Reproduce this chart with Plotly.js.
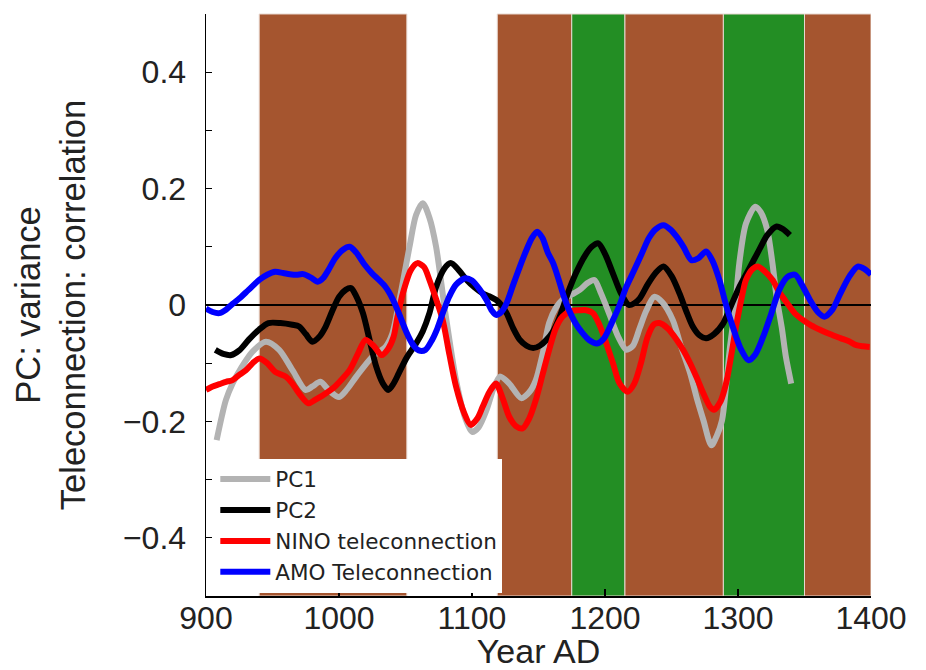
<!DOCTYPE html>
<html>
<head>
<meta charset="utf-8">
<script src="https://cdn.plot.ly/plotly-3.0.1.min.js"></script>
<style>html,body{margin:0;padding:0;background:#fff;}#chart{width:926px;height:670px;}</style>
</head>
<body>
<div id="chart"></div>
<script>
// Shaded periods (years)
var bandStart = [940, 1119, 1175, 1215, 1289, 1350];
var bandEnd   = [1051, 1175, 1215, 1289, 1350, 1400];
var bandKind  = ['dry', 'dry', 'wet', 'dry', 'wet', 'dry'];

// PC1
var pc1Year = [908,912,915,920,927,935,945,955,965,975,980,986,993,1000,1006,1013,1025,1035,1040,1045,1053,1058,1063,1068,1073,1080,1088,1095,1100,1105,1111,1116,1121,1128,1137,1143,1148,1153,1158,1163,1168,1175,1181,1187,1192,1197,1203,1210,1216,1221,1226,1231,1237,1243,1251,1257,1264,1269,1274,1280,1284,1288,1291,1294,1298,1301,1306,1313,1317,1322,1326,1329,1333,1336,1340];
var pc1Val  = [-0.232,-0.19,-0.163,-0.135,-0.106,-0.08,-0.063,-0.077,-0.112,-0.146,-0.14,-0.132,-0.148,-0.158,-0.145,-0.123,-0.089,-0.072,-0.05,0.003,0.10,0.155,0.175,0.15,0.10,-0.014,-0.129,-0.195,-0.218,-0.21,-0.18,-0.145,-0.123,-0.135,-0.16,-0.15,-0.129,-0.085,-0.031,-0.005,0.009,0.018,0.026,0.038,0.043,0.02,-0.014,-0.055,-0.077,-0.07,-0.04,-0.01,0.014,0.005,-0.026,-0.07,-0.117,-0.16,-0.198,-0.241,-0.225,-0.198,-0.14,-0.072,0.0,0.072,0.14,0.169,0.16,0.129,0.07,0.014,-0.04,-0.089,-0.135];

// PC2
var pc2Year = [907,913,919,925,932,940,947,956,965,970,975,980,985,990,995,1000,1005,1009,1013,1018,1023,1028,1033,1037,1041,1045,1051,1058,1063,1068,1073,1079,1084,1090,1096,1102,1108,1113,1118,1122,1126,1131,1136,1141,1146,1151,1156,1161,1166,1172,1178,1185,1190,1195,1200,1206,1212,1218,1222,1226,1232,1238,1244,1250,1256,1261,1266,1271,1276,1282,1289,1295,1301,1309,1316,1322,1329,1334,1339];
var pc2Val  = [-0.077,-0.084,-0.086,-0.078,-0.060,-0.042,-0.031,-0.031,-0.034,-0.037,-0.05,-0.063,-0.055,-0.037,-0.01,0.014,0.026,0.029,0.015,-0.014,-0.06,-0.106,-0.135,-0.146,-0.135,-0.117,-0.09,-0.066,-0.045,-0.014,0.031,0.062,0.072,0.06,0.043,0.03,0.020,0.015,0.009,0.0,-0.014,-0.04,-0.060,-0.07,-0.074,-0.07,-0.060,-0.045,-0.020,0.02,0.054,0.085,0.1,0.106,0.088,0.054,0.02,0.0,0.003,0.011,0.035,0.055,0.066,0.05,0.020,-0.01,-0.037,-0.052,-0.057,-0.05,-0.031,0.0,0.031,0.065,0.095,0.12,0.135,0.13,0.120];

// NINO teleconnection
var ninoYear = [900,905,910,915,920,925,930,935,940,946,952,960,965,970,977,982,988,997,1002,1008,1014,1020,1026,1032,1037,1041,1044,1048,1054,1059,1064,1068,1073,1078,1083,1088,1094,1099,1104,1108,1113,1118,1123,1128,1133,1138,1143,1148,1153,1158,1163,1168,1175,1181,1186,1191,1196,1201,1206,1211,1217,1222,1227,1232,1237,1241,1247,1254,1259,1264,1269,1274,1279,1282,1287,1291,1295,1299,1303,1306,1311,1315,1320,1326,1331,1337,1343,1349,1355,1362,1369,1377,1383,1389,1394,1399];
var ninoVal  = [-0.146,-0.140,-0.136,-0.132,-0.129,-0.12,-0.112,-0.10,-0.092,-0.10,-0.115,-0.123,-0.135,-0.152,-0.169,-0.163,-0.155,-0.140,-0.128,-0.112,-0.085,-0.060,-0.07,-0.086,-0.075,-0.055,-0.02,0.020,0.06,0.072,0.065,0.043,0.01,-0.026,-0.085,-0.140,-0.185,-0.206,-0.195,-0.175,-0.15,-0.135,-0.16,-0.192,-0.208,-0.212,-0.195,-0.163,-0.12,-0.077,-0.04,-0.020,-0.01,-0.009,-0.009,-0.014,-0.035,-0.066,-0.10,-0.135,-0.149,-0.135,-0.10,-0.055,-0.033,-0.031,-0.04,-0.060,-0.078,-0.100,-0.125,-0.152,-0.175,-0.18,-0.165,-0.135,-0.085,-0.031,0.015,0.043,0.062,0.066,0.058,0.043,0.022,0.003,-0.015,-0.026,-0.035,-0.043,-0.050,-0.057,-0.062,-0.069,-0.071,-0.072];

// AMO teleconnection
var amoYear = [900,905,910,915,920,925,932,940,946,952,958,963,968,973,979,984,988,992,997,1003,1008,1013,1019,1025,1030,1035,1040,1045,1050,1055,1060,1065,1070,1074,1078,1083,1088,1095,1100,1106,1111,1115,1118,1122,1126,1131,1136,1141,1145,1149,1153,1157,1161,1165,1169,1173,1178,1183,1188,1194,1199,1206,1211,1216,1222,1228,1233,1238,1244,1249,1254,1259,1265,1270,1276,1281,1286,1291,1296,1302,1308,1313,1319,1325,1331,1337,1343,1348,1354,1360,1365,1371,1377,1384,1390,1395,1400];
var amoVal  = [-0.006,-0.012,-0.014,-0.008,0.002,0.011,0.026,0.043,0.052,0.057,0.055,0.053,0.052,0.053,0.047,0.040,0.046,0.06,0.08,0.095,0.100,0.09,0.07,0.054,0.043,0.031,0.012,-0.014,-0.043,-0.066,-0.078,-0.077,-0.06,-0.04,-0.014,0.015,0.035,0.046,0.042,0.026,0.008,-0.01,-0.017,-0.012,0.003,0.035,0.066,0.095,0.115,0.126,0.115,0.09,0.072,0.045,0.015,-0.009,-0.032,-0.048,-0.06,-0.066,-0.058,-0.026,0.0,0.031,0.06,0.09,0.115,0.13,0.137,0.13,0.117,0.1,0.077,0.08,0.092,0.075,0.043,0.0,-0.037,-0.075,-0.095,-0.085,-0.054,-0.015,0.026,0.048,0.052,0.035,0.009,-0.012,-0.020,-0.008,0.020,0.05,0.066,0.062,0.052];

var seriesNames = ['PC1', 'PC2', 'NINO teleconnection', 'AMO Teleconnection'];

var FONT = '"Liberation Sans", Arial, Helvetica, sans-serif';
var LEGEND_FONT = '"DejaVu Sans", "Liberation Sans", Arial, sans-serif';
var bandColor = {dry: '#a5552f', wet: '#238e24'};

function line(x, y, name, color) {
  return {
    x: x, y: y, name: name, type: 'scatter', mode: 'lines',
    line: {color: color, width: 6, shape: 'spline', smoothing: 0.8},
    hoverinfo: 'skip'
  };
}

var traces = [
  line(pc1Year, pc1Val, seriesNames[0], '#b3b3b3'),
  line(pc2Year, pc2Val, seriesNames[1], '#000000'),
  line(ninoYear, ninoVal, seriesNames[2], '#ff0000'),
  line(amoYear, amoVal, seriesNames[3], '#0000ff')
];

var shapes = bandStart.map(function (s, i) {
  return {
    type: 'rect', layer: 'below', xref: 'x', yref: 'paper',
    x0: s, x1: bandEnd[i], y0: 0, y1: 1,
    fillcolor: bandColor[bandKind[i]],
    line: {color: '#e8d8d0', width: 1}
  };
});

var layout = {
  width: 926, height: 670,
  margin: {l: 206, r: 55, t: 14, b: 74, pad: 0},
  paper_bgcolor: '#ffffff', plot_bgcolor: '#ffffff',
  font: {family: FONT, color: '#222222'},
  showlegend: true,
  legend: {
    x: 0.014, y: 0.006, xanchor: 'left', yanchor: 'bottom',
    bgcolor: '#ffffff', borderwidth: 0,
    font: {family: LEGEND_FONT, size: 21.5, color: '#222222'},
    itemwidth: 50, tracegroupgap: 0
  },
  xaxis: {
    range: [900, 1400], tick0: 900, dtick: 100,
    showline: true, linecolor: '#000', linewidth: 1.5,
    ticks: 'inside', ticklen: 7, tickcolor: '#000', tickwidth: 1.2,
    showgrid: false, zeroline: false,
    tickfont: {family: FONT, size: 32, color: '#222222'},
    ticklabelstandoff: -7,
    title: {text: 'Year AD', font: {family: FONT, size: 34, color: '#222222'}, standoff: 10}
  },
  yaxis: {
    range: [-0.5, 0.5], tick0: 0, dtick: 0.2,
    showline: true, linecolor: '#000', linewidth: 1.5,
    ticks: 'inside', ticklen: 6, tickcolor: '#000', tickwidth: 1.2,
    minor: {tick0: 0, dtick: 0.1, ticks: 'inside', ticklen: 6, tickcolor: '#000', tickwidth: 1.2, showgrid: false},
    showgrid: false,
    zeroline: true, zerolinecolor: '#000', zerolinewidth: 2,
    tickfont: {family: FONT, size: 32, color: '#222222'},
    ticklabelstandoff: 12,
    title: {text: 'PC: variance<br>Teleconnection: correlation', font: {family: FONT, size: 34.5, color: '#222222'}, standoff: 27}
  },
  shapes: shapes
};

Plotly.newPlot('chart', traces, layout, {displayModeBar: false, staticPlot: true});
</script>
</body>
</html>
